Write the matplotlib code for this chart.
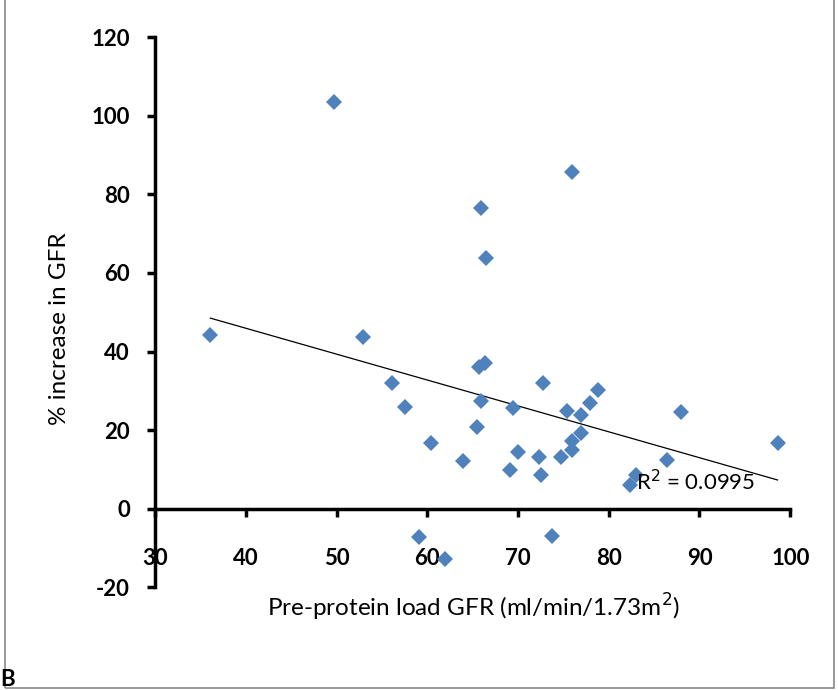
import matplotlib.pyplot as plt
import numpy as np
from matplotlib.patches import Rectangle

plt.rcParams['font.family'] = ['Lato', 'DejaVu Sans']
plt.rcParams['axes.unicode_minus'] = False

# pre-protein load GFR and % increase in GFR
gfr_pre = [36.1, 49.7, 52.9, 56.1, 57.6, 60.4, 59.1, 62.0, 63.9, 65.5,
           65.9, 65.7, 66.4, 65.9, 66.5, 69.1, 69.5, 70.0, 72.3, 72.5,
           72.8, 73.8, 74.7, 75.4, 75.9, 75.9, 76.0, 76.9, 76.9, 77.9,
           78.8, 82.3, 83.0, 86.4, 88.0, 98.6]
gfr_increase = [44.2, 103.6, 43.8, 32.0, 25.9, 16.6, -7.3, -12.8, 12.2, 20.9,
                27.5, 36.1, 37.1, 76.6, 63.8, 9.9, 25.6, 14.4, 13.2, 8.6,
                32.0, -6.9, 13.2, 24.8, 85.6, 17.1, 14.8, 19.3, 23.9, 27.0,
                30.1, 6.1, 8.6, 12.5, 24.5, 16.6]
r2_label = 'R$^2$ = 0.0995'

xticks = [30, 40, 50, 60, 70, 80, 90, 100]
yticks = [-20, 0, 20, 40, 60, 80, 100, 120]

fig = plt.figure(figsize=(8.38, 6.90), dpi=100)
ax = fig.add_axes([0.185, 0.149, 0.758, 0.797])

ax.plot(gfr_pre, gfr_increase, linestyle='none', marker='D', markersize=8,
        color='#4F81BD', markeredgewidth=0, zorder=3)

# linear trend line over the data range
coef = np.polyfit(gfr_pre, gfr_increase, 1)
xs = np.array([min(gfr_pre), max(gfr_pre)])
ax.plot(xs, np.polyval(coef, xs), color='black', linewidth=0.9, zorder=2)

ax.text(83.0, 6.8, r2_label, fontsize=16, ha='left', va='center', zorder=4)

ax.set_xlim(30, 100)
ax.set_ylim(-20, 120)
ax.set_xticks(xticks)
ax.set_yticks(yticks)

ax.spines['top'].set_visible(False)
ax.spines['right'].set_visible(False)
ax.spines['bottom'].set_position(('data', 0))
ax.spines['left'].set_linewidth(2.5)
ax.spines['bottom'].set_linewidth(2.5)

ax.tick_params(axis='both', width=2.5, length=6, direction='out',
               labelsize=16)
ax.tick_params(axis='x', pad=22)
ax.tick_params(axis='y', pad=12)
for lbl in ax.get_xticklabels() + ax.get_yticklabels():
    lbl.set_fontweight('bold')

ax.set_ylabel('% increase in GFR', fontsize=17.5)
ax.yaxis.set_label_coords(-0.134, 0.47)
fig.text(0.565, 0.12, 'Pre-protein load GFR (ml/min/1.73m$^2$)',
         fontsize=17.5, ha='center', va='center')

# outer frame and panel letter
fig.patches.append(Rectangle((0.006, 0.003), 0.989, 1.2, transform=fig.transFigure,
                             fill=False, edgecolor='#888888', linewidth=1.2))
fig.text(0.0, 0.0, 'B', fontsize=16, fontweight='bold', ha='left', va='bottom')

fig.savefig('out.png', dpi=100)
